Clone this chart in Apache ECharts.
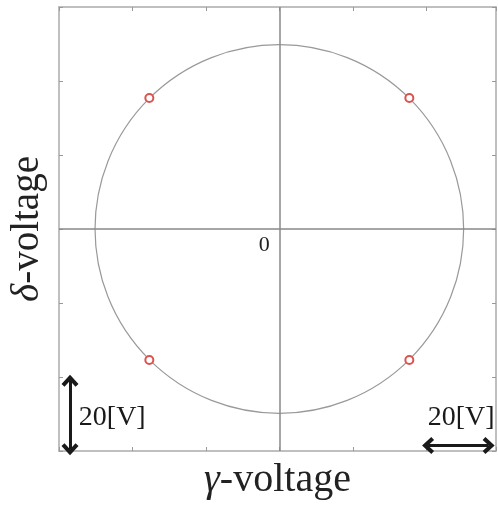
<!DOCTYPE html>
<html>
<head>
<meta charset="utf-8">
<script src="https://cdn.jsdelivr.net/npm/echarts@6/dist/echarts.min.js"></script>
<style>
  html, body { margin: 0; padding: 0; background: #fff; }
  #chart { width: 498px; height: 507px; }
</style>
</head>
<body>
<div id="chart"></div>
<script>
// operating points (V)
const gammaV = [-35.4, 35.4, -35.4, 35.4];
const deltaV = [35.4, 35.4, -35.4, -35.4];
// reference circle: centre and radius (V)
const circle = [[0, 0, 50]];
// scale bars (V): [x1, y1, x2, y2]
const scaleBars = [
  [-57, -59.5, -57, -41],
  [40.5, -58.5, 57, -58.5],
];
const scaleLabels = [[-45.5, -51], [49.5, -51]];
const scaleText = "20[V]";
const originLabel = "0";

const chevron = "path://M10,0 L20,10 L16.5,13 L10,6.5 L3.5,13 L0,10 Z";
const serif = "Liberation Serif, DejaVu Serif, serif";

const chart = echarts.init(document.getElementById("chart"));

const axisCommon = {
  type: "value",
  min: -60,
  interval: 20,
  axisLine: { show: true, onZero: false, lineStyle: { color: "#aaa", width: 1.5 } },
  axisTick: { show: true, inside: true, length: 4, lineStyle: { color: "#999" } },
  axisLabel: { show: false },
  splitLine: { show: false },
};

chart.setOption({
  animation: false,
  grid: { left: 57, top: 7, width: 439, height: 444 },
  xAxis: [
    {
      ...axisCommon,
      max: 59,
      position: "bottom",
      name: "{i|γ}-voltage",
      nameLocation: "middle",
      nameGap: 9,
      nameTextStyle: {
        fontFamily: serif, fontSize: 40, color: "#222", verticalAlign: "top",
        rich: { i: { fontFamily: serif, fontSize: 40, fontStyle: "italic", color: "#222" } },
      },
    },
    { ...axisCommon, max: 59, position: "top" },
  ],
  yAxis: [
    {
      ...axisCommon,
      max: 60,
      position: "left",
      name: "{i|δ}-voltage",
      nameLocation: "middle",
      nameGap: 12,
      nameTextStyle: {
        fontFamily: serif, fontSize: 39, color: "#222",
        rich: { i: { fontFamily: serif, fontSize: 39, fontStyle: "italic", color: "#222" } },
      },
    },
    { ...axisCommon, max: 60, position: "right" },
  ],
  series: [
    {
      type: "custom",
      silent: true,
      data: circle,
      renderItem: (params, api) => {
        const c = api.coord([api.value(0), api.value(1)]);
        const s = api.size([api.value(2), api.value(2)]);
        return {
          type: "circle",
          shape: { cx: c[0], cy: c[1], r: (s[0] + s[1]) / 2 },
          style: { fill: null, stroke: "#999", lineWidth: 1.2 },
        };
      },
      z: 2,
    },
    {
      type: "scatter",
      silent: true,
      data: [[0, 0]],
      symbolSize: 0,
      itemStyle: { opacity: 1 },
      label: {
        show: true,
        formatter: originLabel,
        position: "inside",
        offset: [-15, 16],
        fontFamily: serif,
        fontSize: 22,
        color: "#222",
      },
      markLine: {
        silent: true,
        symbol: "none",
        label: { show: false },
        lineStyle: { color: "#888", width: 1.5, type: "solid" },
        data: [{ xAxis: 0 }, { yAxis: 0 }],
      },
      z: 1,
    },
    {
      type: "scatter",
      data: gammaV.map((g, i) => [g, deltaV[i]]),
      symbol: "emptyCircle",
      symbolSize: 8,
      itemStyle: { color: "#d9534f", borderColor: "#d9534f", borderWidth: 1.5, opacity: 1 },
      z: 5,
    },
    {
      type: "scatter",
      silent: true,
      data: scaleLabels,
      symbolSize: 0,
      itemStyle: { opacity: 1 },
      label: {
        show: true,
        formatter: scaleText,
        position: "inside",
        fontFamily: serif,
        fontSize: 28,
        color: "#1a1a1a",
        opacity: 1,
      },
      markLine: {
        silent: true,
        symbol: [chevron, chevron],
        symbolSize: [17, 12],
        label: { show: false },
        lineStyle: { color: "#1a1a1a", width: 3, type: "solid", opacity: 1 },
        data: scaleBars.map((b) => [{ coord: [b[0], b[1]] }, { coord: [b[2], b[3]] }]),
      },
      z: 6,
    },
  ],
});
</script>
</body>
</html>
